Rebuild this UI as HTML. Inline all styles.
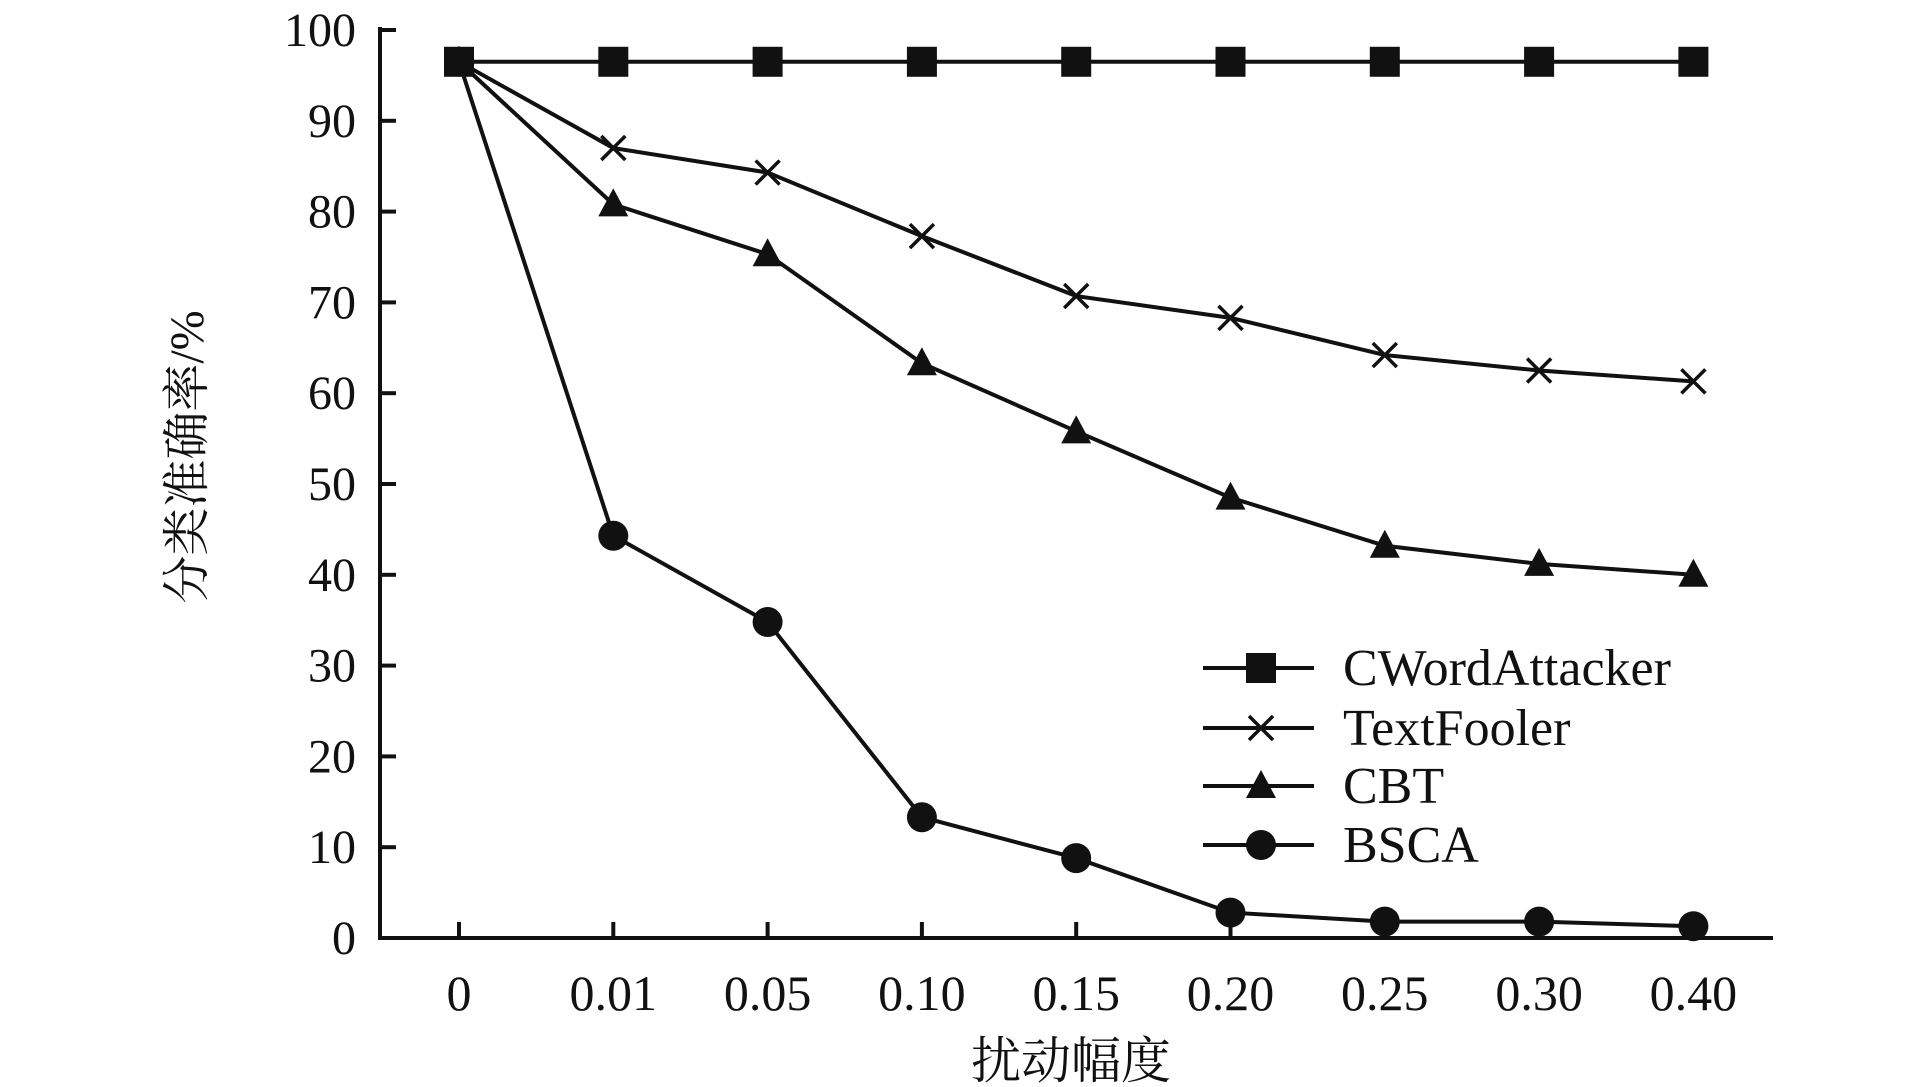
<!DOCTYPE html>
<html><head><meta charset="utf-8"><style>
body{margin:0;background:#fff}
svg{display:block}
text{font-family:"Liberation Serif","Noto Serif CJK SC",serif;fill:#111}
</style></head><body>
<svg id="c" width="1913" height="1087"></svg>
<script>
const categories=["0","0.01","0.05","0.10","0.15","0.20","0.25","0.30","0.40"];
const yTicks=[0,10,20,30,40,50,60,70,80,90,100];
const cword=[96.5,96.5,96.5,96.5,96.5,96.5,96.5,96.5,96.5];
const textfooler=[96.5,87,84.3,77.3,70.7,68.3,64.2,62.5,61.3];
const cbt=[96.5,80.8,75.3,63.3,55.8,48.5,43.2,41.2,40];
const bsca=[96.5,44.3,34.8,13.3,8.8,2.8,1.8,1.8,1.3];
const seriesNames=["CWordAttacker","TextFooler","CBT","BSCA"];

const svg=document.getElementById('c');
const NS="http://www.w3.org/2000/svg";
function el(t,a,p){const e=document.createElementNS(NS,t);for(const k in a)e.setAttribute(k,a[k]);(p||svg).appendChild(e);return e;}
const X0=380,Y0=938,YT=30;
function xs(i){return 459+i*154.3;}
function ys(v){return Y0-(Y0-YT)*v/100;}

let e;
e=el('line',{x1:X0,y1:Y0,x2:1773,y2:Y0,stroke:'#111','stroke-width':4});


e=el('line',{x1:X0,y1:YT-3,x2:X0,y2:Y0+2,stroke:'#111','stroke-width':4});


yTicks.forEach(v=>{
  const t=el('line',{x1:X0,y1:ys(v),x2:X0+16,y2:ys(v),stroke:'#111','stroke-width':4});
  
  
  const l=el('text',{x:X0-24,y:ys(v)+16,'text-anchor':'end','font-size':48});
  l.textContent=v;
  
  
});
categories.forEach((c,i)=>{
  const t=el('line',{x1:xs(i),y1:Y0,x2:xs(i),y2:Y0-16,stroke:'#111','stroke-width':4});
  
  
  const l=el('text',{x:xs(i),y:1010,'text-anchor':'middle','font-size':50});
  l.textContent=c;
  
  
});
e=el('text',{x:1071,y:1078,'text-anchor':'middle','font-size':50});
e.textContent='扰动幅度';


e=el('text',{x:0,y:0,'text-anchor':'middle','font-size':48,transform:'translate(203,457) rotate(-90)'});
e.textContent='分类准确率/%';



function marker(kind,x,y,g){
  let m;
  if(kind===0)m=el('rect',{x:x-15,y:y-15,width:30,height:30,fill:'#111'},g);
  else if(kind===1)m=el('path',{d:`M${x-12},${y-12}L${x+12},${y+12}M${x-12},${y+12}L${x+12},${y-12}`,stroke:'#111','stroke-width':3.5,fill:'none'},g);
  else if(kind===2)m=el('path',{d:`M${x},${y-16}L${x+15},${y+12}L${x-15},${y+12}Z`,fill:'#111'},g);
  else m=el('circle',{cx:x,cy:y,r:15,fill:'#111'},g);
  return m;
}
const all=[cword,textfooler,cbt,bsca];
const order=[3,2,1,0];
order.forEach(k=>{
  const data=all[k];
  const g=el('g',{});
  
  
  const p=el('polyline',{points:data.map((v,i)=>xs(i)+','+ys(v)).join(' '),fill:'none',stroke:'#111','stroke-width':4},g);
  
  
  data.forEach((v,i)=>{
    const m=marker(k,xs(i),ys(v),g);
    
    
  });
});
const legRows=[668,728,786,845];
seriesNames.forEach((n,k)=>{
  const g=el('g',{});
  
  
  el('line',{x1:1203,y1:legRows[k],x2:1314,y2:legRows[k],stroke:'#111','stroke-width':4},g);
  marker(k,1261,legRows[k],g);
  const t=el('text',{x:1343,y:legRows[k]+17,'font-size':52},g);
  t.textContent=n;
});
</script>
</body></html>
